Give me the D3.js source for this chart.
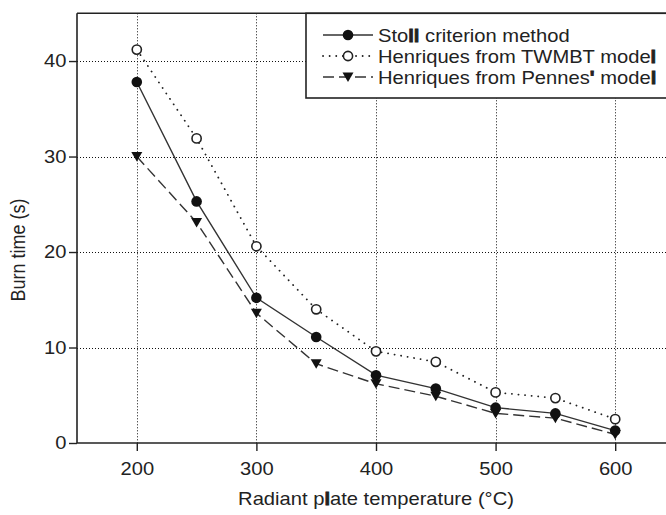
<!DOCTYPE html>
<html>
<head>
<meta charset="utf-8">
<script src="https://cdn.jsdelivr.net/npm/d3@7"></script>
<style>
  html, body { margin: 0; padding: 0; background: #fff; }
  svg { display: block; }
  text { font-family: "Liberation Sans", Arial, Helvetica, sans-serif; fill: #222; }
</style>
</head>
<body>
<svg id="chart" width="666" height="515"></svg>
<script>
// Radiant plate temperature (°C)
const temperatures = [200, 250, 300, 350, 400, 450, 500, 550, 600];
// Burn time (s) for each prediction method
const stollValues  = [37.8, 25.3, 15.2, 11.1, 7.1, 5.7, 3.7, 3.1, 1.3];
const twmbtValues  = [41.2, 31.9, 20.6, 14.0, 9.6, 8.5, 5.3, 4.7, 2.5];
const pennesValues = [30.0, 23.1, 13.6, 8.3, 6.2, 4.9, 3.1, 2.6, 0.9];

const xTicks = [200, 300, 400, 500, 600];
const yTicks = [0, 10, 20, 30, 40];
const seriesNames = ["Stoll criterion method", "Henriques from TWMBT model", "Henriques from Pennes' model"];

const svg = d3.select("#chart");
const ink = "#222";
const stretch = "scale(1.12,1)";

const x = d3.scaleLinear().domain([150, 650]).range([77, 675]);
const y = d3.scaleLinear().domain([0, 45]).range([443, 13.3]);

const plotLeft = x(150), plotTop = y(45), plotBottom = y(0);
const crisp = v => Math.round(v) + 0.5;

// dotted grid
const grid = svg.append("g").attr("stroke", "#111").attr("stroke-width", 1)
  .attr("stroke-dasharray", "1,2");
grid.selectAll("line.v").data(xTicks).join("line")
  .attr("x1", d => crisp(x(d))).attr("x2", d => crisp(x(d)))
  .attr("y1", plotTop).attr("y2", plotBottom);
grid.selectAll("line.h").data(yTicks.filter(d => d > 0)).join("line")
  .attr("x1", plotLeft).attr("x2", 666)
  .attr("y1", d => crisp(y(d))).attr("y2", d => crisp(y(d)));

// frame (top edge + axes)
svg.append("line").attr("x1", plotLeft).attr("x2", 666)
  .attr("y1", plotTop).attr("y2", plotTop)
  .attr("stroke", ink).attr("stroke-width", 1.6);

const xAxis = svg.append("g").attr("transform", `translate(0,${plotBottom})`)
  .call(d3.axisBottom(x).tickValues(xTicks).tickSize(8).tickPadding(11).tickFormat(d3.format("d")));
const yAxis = svg.append("g").attr("transform", `translate(${plotLeft},0)`)
  .call(d3.axisLeft(y).tickValues(yTicks).tickSize(8).tickPadding(1.5).tickFormat(d3.format("d")));

[xAxis, yAxis].forEach(ax => {
  ax.select(".domain").attr("stroke", ink).attr("stroke-width", 1.6);
  ax.selectAll(".tick line").attr("stroke", ink).attr("stroke-width", 1.4);
  ax.selectAll(".tick text").attr("fill", ink).attr("font-size", 18)
    .attr("font-family", "Liberation Sans, Arial, sans-serif")
    .attr("transform", stretch);
});
// bottom axis runs on past the right edge
xAxis.select(".domain").attr("d", `M${plotLeft},0H666`);
yAxis.select(".domain").attr("d", `M0,${plotTop}V${plotBottom}`);

// axis titles
svg.append("text").attr("transform", `translate(376,505) ${stretch}`)
  .attr("text-anchor", "middle").attr("font-size", 18)
  .call(t => {
    t.append("tspan").text("Radiant p");
    t.append("tspan").attr("font-weight", "bold").attr("stroke", ink).attr("stroke-width", 0.8).text("l");
    t.append("tspan").text("ate temperature (°C)");
  });
svg.append("text").attr("transform", "translate(25,250) rotate(-90) scale(1,1.12)")
  .attr("text-anchor", "middle").attr("font-size", 18)
  .text("Burn time (s)");

// series
const lineGen = vals => d3.line().x((d, i) => x(temperatures[i])).y(d => y(d))(vals);
const lineColor = "#333";

svg.append("path").attr("d", lineGen(twmbtValues)).attr("fill", "none")
  .attr("stroke", ink).attr("stroke-width", 1.8).attr("stroke-linecap", "round")
  .attr("stroke-dasharray", "0.1,6.5");
svg.append("path").attr("d", lineGen(pennesValues)).attr("fill", "none")
  .attr("stroke", lineColor).attr("stroke-width", 1.4).attr("stroke-dasharray", "11,5");
svg.append("path").attr("d", lineGen(stollValues)).attr("fill", "none")
  .attr("stroke", lineColor).attr("stroke-width", 1.4);

const triangle = (cx, cy) => `M${cx - 5.5},${cy - 4.5}L${cx + 5.5},${cy - 4.5}L${cx},${cy + 5}Z`;

function drawTriangles(g, pts) {
  g.selectAll("path.tri").data(pts).join("path").attr("class", "tri")
    .attr("d", d => triangle(d[0], d[1])).attr("fill", "#111");
}
function drawFilled(g, pts) {
  g.selectAll("circle.f").data(pts).join("circle").attr("class", "f")
    .attr("cx", d => d[0]).attr("cy", d => d[1]).attr("r", 5.3).attr("fill", "#111");
}
function drawOpen(g, pts) {
  g.selectAll("circle.o").data(pts).join("circle").attr("class", "o")
    .attr("cx", d => d[0]).attr("cy", d => d[1]).attr("r", 4.6)
    .attr("fill", "#fff").attr("stroke", ink).attr("stroke-width", 1.6);
}
const pts = vals => vals.map((v, i) => [x(temperatures[i]), y(v)]);

drawOpen(svg.append("g"), pts(twmbtValues));
drawTriangles(svg.append("g"), pts(pennesValues));
drawFilled(svg.append("g"), pts(stollValues));

// legend
const legend = svg.append("g");
legend.append("rect").attr("x", 306).attr("y", plotTop).attr("width", 380).attr("height", 98 - plotTop)
  .attr("fill", "#fff").attr("stroke", ink).attr("stroke-width", 1.6);
const rowsY = [35, 56, 77];
const sx1 = 323, sx2 = 373, sm = 348;

legend.append("line").attr("x1", sx1).attr("x2", sx2).attr("y1", rowsY[0]).attr("y2", rowsY[0])
  .attr("stroke", lineColor).attr("stroke-width", 1.6);
drawFilled(legend.append("g"), [[sm, rowsY[0]]]);

legend.append("line").attr("x1", sx1).attr("x2", sx2).attr("y1", rowsY[1]).attr("y2", rowsY[1])
  .attr("stroke", ink).attr("stroke-width", 1.8).attr("stroke-linecap", "round")
  .attr("stroke-dasharray", "0.1,6.5");
drawOpen(legend.append("g"), [[sm, rowsY[1]]]);

legend.append("line").attr("x1", sx1).attr("x2", sx2).attr("y1", rowsY[2]).attr("y2", rowsY[2])
  .attr("stroke", lineColor).attr("stroke-width", 1.6).attr("stroke-dasharray", "11,5");
drawTriangles(legend.append("g"), [[sm, rowsY[2]]]);

// legend labels; a few strokes print heavier in this typesetting
const labelParts = [
  [["Sto", false], ["ll", true], [" criterion method", false]],
  [["Henriques from TWMBT mode", false], ["l", true]],
  [["Henriques from Pennes", false], ["'", true], [" mode", false], ["l", true]]
];
labelParts.forEach((parts, i) => {
  const t = legend.append("text").attr("transform", `translate(378,${rowsY[i] + 6.5}) ${stretch}`)
    .attr("font-size", 18);
  parts.forEach(([s, heavy]) => {
    const ts = t.append("tspan").text(s);
    if (heavy) ts.attr("font-weight", "bold").attr("stroke", ink).attr("stroke-width", 0.8);
  });
  t.append("title").text(seriesNames[i]);
});
</script>
</body>
</html>
